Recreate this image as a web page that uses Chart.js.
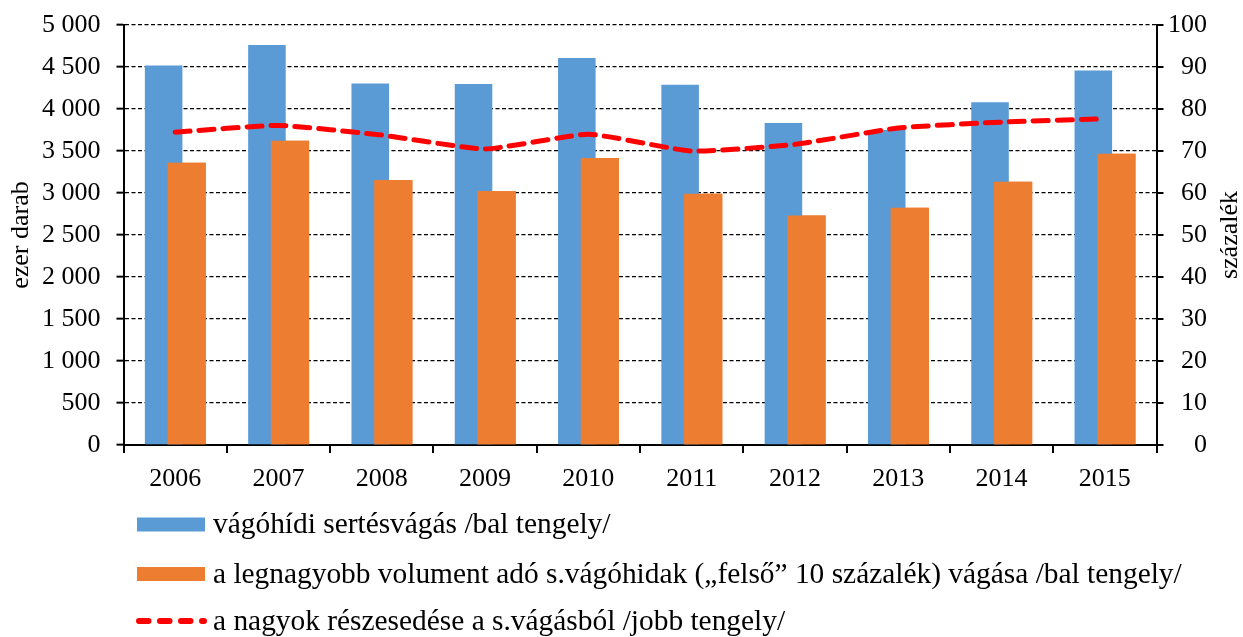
<!DOCTYPE html>
<html>
<head>
<meta charset="utf-8">
<script src="https://cdn.jsdelivr.net/npm/chart.js@4.4.1/dist/chart.umd.min.js"></script>
<style>
html,body{margin:0;padding:0;background:#fff;}
#wrap{width:1243px;height:637px;position:relative;}
</style>
</head>
<body>
<div id="wrap"><canvas id="c" width="1243" height="637"></canvas></div>
<script>
// ---- data ----
const categories = ['2006','2007','2008','2009','2010','2011','2012','2013','2014','2015'];
const slaughterTotal = [4520, 4762, 4306, 4298, 4607, 4290, 3833, 3750, 4080, 4460];
const slaughterTop10 = [3361, 3623, 3155, 3024, 3417, 2992, 2734, 2825, 3135, 3468];
const shareOfLarge  = [74.5, 76.1, 73.8, 70.5, 74.0, 70.0, 71.6, 75.5, 76.9, 77.7];
const seriesLabels = [
  'vágóhídi sertésvágás /bal tengely/',
  'a legnagyobb volument adó s.vágóhidak („felső” 10 százalék) vágása /bal tengely/',
  'a nagyok részesedése a s.vágásból /jobb tengely/'
];
const leftAxisTitle = 'ezer darab';
const rightAxisTitle = 'százalék';
const leftTickRange = [0, 5000, 500];
const rightTickRange = [0, 100, 10];

// ---- styles ----
const FONT = '"Liberation Serif", "Times New Roman", serif';
const BLUE = '#5B9BD5', ORANGE = '#ED7D31', RED = '#FF0000';

function fmtThousands(v){
  const s = String(Math.round(v));
  return s.replace(/\B(?=(\d{3})+(?!\d))/g, ' ');
}

// redraw orange bars above blue (Excel overlap look)
const overlapPlugin = {
  id: 'overlapOrder',
  afterDatasetDraw(chart, args) {
    if (args.index === 1) {
      const meta = chart.getDatasetMeta(2);
      if (meta && meta.controller) meta.controller.draw();
    }
  }
};

const decorPlugin = {
  id: 'decor',
  afterDraw(chart) {
    const ctx = chart.ctx;
    const area = chart.chartArea;
    ctx.save();
    ctx.fillStyle = '#000';
    ctx.font = '26px ' + FONT;
    ctx.textAlign = 'center';
    ctx.textBaseline = 'middle';
    ctx.translate(1230, (area.top + area.bottom) / 2);
    ctx.rotate(-Math.PI / 2);
    ctx.fillText(rightAxisTitle, 0, 0);
    ctx.restore();

    ctx.save();
    const rows = [524.5, 574, 621];
    const bx = 137, bw = 68, bh = 14, tx = 213;
    ctx.font = '29.4px ' + FONT;
    ctx.textBaseline = 'middle';
    ctx.textAlign = 'left';
    ctx.fillStyle = BLUE;
    ctx.fillRect(bx, rows[0] - bh/2, bw, bh);
    ctx.fillStyle = ORANGE;
    ctx.fillRect(bx, rows[1] - bh/2, bw, bh);
    ctx.strokeStyle = RED;
    ctx.lineWidth = 6;
    ctx.lineCap = 'round';
    ctx.setLineDash([9.5, 11.5]);
    ctx.beginPath();
    ctx.moveTo(bx + 2, rows[2]);
    ctx.lineTo(bx + bw - 1, rows[2]);
    ctx.stroke();
    ctx.setLineDash([]);
    ctx.fillStyle = '#000';
    for (let i = 0; i < 3; i++) ctx.fillText(seriesLabels[i], tx, rows[i] + 1);
    ctx.restore();
  }
};

new Chart(document.getElementById('c'), {
  data: {
    labels: categories,
    datasets: [
      {
        type: 'line',
        label: seriesLabels[2],
        data: shareOfLarge,
        yAxisID: 'y2',
        order: 0,
        borderColor: RED,
        borderWidth: 5,
        borderDash: [15, 9],
        borderCapStyle: 'round',
        pointRadius: 0,
        pointHoverRadius: 0,
        tension: 0.15,
        fill: false
      },
      {
        type: 'bar',
        label: seriesLabels[0],
        data: slaughterTotal,
        yAxisID: 'y',
        order: 1,
        backgroundColor: BLUE,
        categoryPercentage: 0.446,
        barPercentage: 1.63
      },
      {
        type: 'bar',
        label: seriesLabels[1],
        data: slaughterTop10,
        yAxisID: 'y',
        order: 2,
        backgroundColor: ORANGE,
        categoryPercentage: 0.446,
        barPercentage: 1.66
      }
    ]
  },
  options: {
    responsive: false,
    animation: false,
    devicePixelRatio: 1,
    layout: { padding: { top: 25, bottom: 142, left: 0, right: 36 } },
    plugins: { legend: { display: false }, tooltip: { enabled: false } },
    scales: {
      x: {
        type: 'category',
        position: 'bottom',
        offset: true,
        afterFit: s => { s.height = 50; },
        grid: { offset: true, drawOnChartArea: false, drawTicks: true, tickLength: 8, color: '#000', lineWidth: 2 },
        border: { display: true, color: '#000', width: 2 },
        ticks: { color: '#000', font: { family: FONT, size: 26 }, padding: 11, maxRotation: 0 }
      },
      y: {
        position: 'left',
        min: leftTickRange[0], max: leftTickRange[1],
        afterFit: s => { s.width = 123.5; },
        ticks: { stepSize: leftTickRange[2], color: '#000', font: { family: FONT, size: 26, lineHeight: 0.7 }, padding: 16, callback: v => fmtThousands(v) },
        grid: { color: '#000', lineWidth: 1.3, tickLength: 7, tickBorderDash: [], tickWidth: 2 },
        border: { display: true, color: '#000', width: 2, dash: [4, 2.5] },
        title: { display: true, text: leftAxisTitle, color: '#000', font: { family: FONT, size: 26 }, padding: { top: 6, bottom: 0 } }
      },
      y2: {
        position: 'right',
        min: rightTickRange[0], max: rightTickRange[1],
        afterFit: s => { s.width = 50.5; },
        ticks: { stepSize: rightTickRange[2], color: '#000', font: { family: FONT, size: 26, lineHeight: 0.7 }, padding: 4, crossAlign: 'far' },
        grid: { drawOnChartArea: false, color: '#000', tickLength: 7, lineWidth: 2 },
        border: { display: true, color: '#000', width: 2 }
      }
    }
  },
  plugins: [overlapPlugin, decorPlugin]
});
</script>
</body>
</html>
